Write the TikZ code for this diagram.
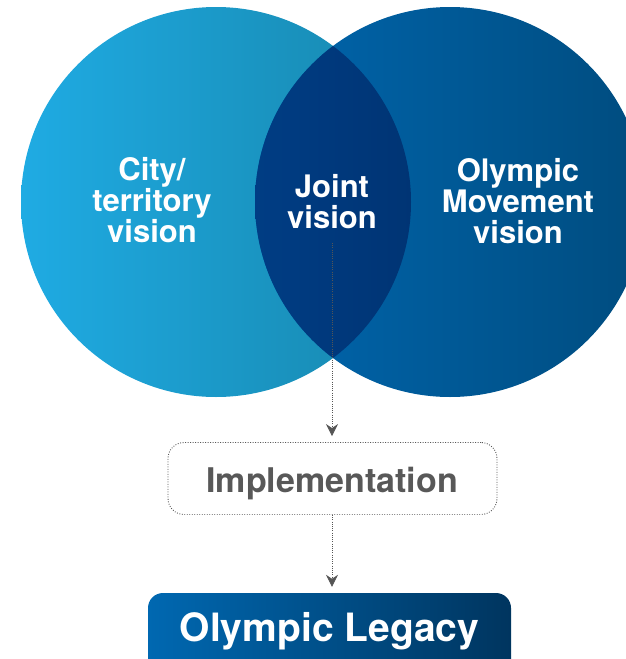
\documentclass[tikz,border=0pt]{standalone}
\usepackage{fontspec}
\setmainfont{TeX Gyre Heros}
\usetikzlibrary{arrows.meta}
\definecolor{lcL}{HTML}{1FABE3}
\definecolor{lcR}{HTML}{1787AD}
\definecolor{rcL}{HTML}{0066AE}
\definecolor{rcR}{HTML}{004C7F}
\definecolor{jnL}{HTML}{003D84}
\definecolor{jnR}{HTML}{00275C}
\definecolor{lgL}{HTML}{0068B1}
\definecolor{lgR}{HTML}{00355F}
\definecolor{arrgray}{HTML}{555555}
\definecolor{impgray}{HTML}{585858}
\tikzset{
  vtext/.style={text=white, align=center, font=\fontsize{31}{31}\selectfont\bfseries},
  flow/.style={draw=arrgray, line width=0.8pt, dash pattern=on 0.9pt off 1.3pt,
    -{Stealth[length=12pt,width=12pt,inset=4pt]}, shorten >=6pt},
}
\begin{document}
\begin{tikzpicture}[x=1pt,y=-1pt]
\useasboundingbox (0,0) rectangle (626,659);
\clip (0,0) rectangle (626,659);
% circles
\node[circle, minimum size=390pt, inner sep=0pt, left color=lcL, right color=lcR] (lc) at (216,202) {};
\node[circle, minimum size=390pt, inner sep=0pt, left color=rcL, right color=rcR] (rc) at (450,202) {};
\begin{scope}
  \clip (lc.center) circle (195);
  \shade[left color=jnL, right color=jnR] (rc.center) circle (195);
\end{scope}
% texts
\node[vtext] (city) at (152,200) {City/\\territory\\vision};
\node[vtext] (joint) at (332,202) {Joint\\vision};
\node[vtext] (olym) at (518,201) {Olympic\\Movement\\vision};
% boxes
\node[draw=impgray, line width=0.9pt, dash pattern=on 0.9pt off 1.6pt, rounded corners=16pt,
  minimum width=329pt, minimum height=72pt] (impl) at (332.5,478.5) {};
\node[anchor=base, text=impgray, inner sep=0pt, font=\fontsize{34}{34}\selectfont\bfseries] (impltext) at (332,492) {Implementation};
\node[rounded corners=15pt, minimum width=363pt, minimum height=90pt, left color=lgL, right color=lgR,
  inner sep=0pt] (legbox) at (329.5,638) {};
\node[anchor=base, inner sep=0pt, text=white, font=\fontsize{39}{39}\selectfont\bfseries] (leg) at (329.5,641) {Olympic Legacy};
% connectors
\coordinate (jstart) at (332,243);
\draw[flow] (jstart) -- (impl.north -| jstart);
\draw[flow] (impl.south -| jstart) -- (legbox.north -| jstart);
\end{tikzpicture}
\end{document}
